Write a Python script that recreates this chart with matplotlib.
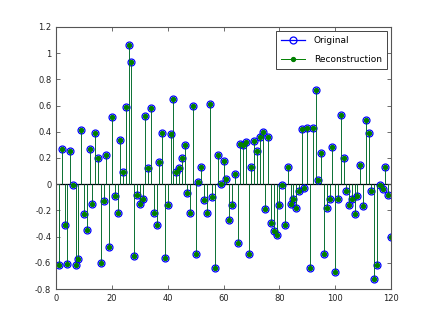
import matplotlib
matplotlib.use('Agg')
import matplotlib.pyplot as plt
from matplotlib.lines import Line2D
from matplotlib.legend_handler import HandlerLine2D
import numpy as np

# sample index 1..120
n = np.arange(1, 121)

original = [
    -0.62, 0.27, -0.31, -0.61, 0.25, -0.01, -0.62, -0.57, 0.41, -0.23,
    -0.35, 0.27, -0.15, 0.39, 0.20, -0.60, -0.13, 0.22, -0.48, 0.51,
    -0.09, -0.22, 0.34, 0.09, 0.59, 1.06, 0.93, -0.55, -0.08, -0.15,
    -0.11, 0.52, 0.12, 0.58, -0.22, -0.31, 0.17, 0.39, -0.56, -0.16,
    0.38, 0.65, 0.09, 0.12, 0.20, 0.30, -0.07, -0.22, 0.60, -0.53,
    0.02, 0.13, -0.12, -0.22, 0.61, -0.10, -0.64, 0.22, 0.00, 0.18,
    0.04, -0.27, -0.16, 0.08, -0.45, 0.31, 0.30, 0.32, -0.53, 0.13,
    0.33, 0.25, 0.36, 0.40, -0.19, 0.36, -0.30, -0.36, -0.39, -0.16,
    -0.01, -0.31, 0.13, -0.15, -0.11, -0.18, -0.05, 0.42, -0.03, 0.43,
    -0.64, 0.43, 0.72, 0.03, 0.24, -0.53, -0.18, -0.11, 0.28, -0.67,
    -0.11, 0.53, 0.20, -0.05, -0.16, -0.11, -0.23, -0.09, 0.15, -0.17,
    0.49, 0.39, -0.05, -0.72, -0.62, -0.01, -0.04, 0.13, -0.08, -0.40,
]
# reconstruction sits on top of the original at this resolution
reconstruction = list(original)

xticks = [0, 20, 40, 60, 80, 100, 120]
yticks = [-0.8, -0.6, -0.4, -0.2, 0, 0.2, 0.4, 0.6, 0.8, 1, 1.2]
ylabels = ['-0.8', '-0.6', '-0.4', '-0.2', '0', '0.2', '0.4', '0.6', '0.8', '1', '1.2']

green = '#008000'


class EndMarker(HandlerLine2D):
    # matlab style legend: line with the marker at its right end
    def get_xdata(self, legend, xdescent, ydescent, width, height, fontsize):
        xdata = np.array([-xdescent, -xdescent + width])
        return xdata, np.array([-xdescent + width])


fig = plt.figure(figsize=(4.32, 3.24), dpi=100)
ax = fig.add_axes([0.13, 0.108, 0.775, 0.809])

mk, st, bl = ax.stem(n, original, linefmt='b-', markerfmt='bo', basefmt=' ')
mk.set_markerfacecolor('none')
mk.set_markersize(5)
mk.set_markeredgewidth(0.9)
st.set_linewidth(0.5)

mk2, st2, bl2 = ax.stem(n, reconstruction, linefmt='-', markerfmt='o', basefmt=' ')
st2.set_color(green)
st2.set_linewidth(0.7)
st2.set_alpha(0.8)
mk2.set_color(green)
mk2.set_markersize(2.8)

ax.axhline(0, color='k', lw=0.9, zorder=1.5)

ax.set_xlim(0, 120)
ax.set_ylim(-0.8, 1.2)
ax.set_xticks(xticks)
ax.set_yticks(yticks)
ax.set_yticklabels(ylabels)
ax.tick_params(direction='in', top=True, right=True, labelsize=6, length=3, width=0.6,
               color='#555555', labelcolor='#222222')
for sp in ax.spines.values():
    sp.set_color('#555555')
    sp.set_linewidth(0.8)

h1 = Line2D([], [], color='b', lw=0.9, marker='o', markerfacecolor='none',
            markersize=5, markeredgewidth=0.9)
h2 = Line2D([], [], color=green, lw=0.7, marker='o', markersize=2.8)
leg = ax.legend([h1, h2], ['Original', 'Reconstruction'], loc='upper right',
                fontsize=6.5, fancybox=False, framealpha=1, handlelength=2.6,
                labelspacing=1.1, borderaxespad=0.4, borderpad=0.6,
                handletextpad=1.0, numpoints=1,
                handler_map={Line2D: EndMarker()})
leg.get_frame().set_edgecolor('#444444')
leg.get_frame().set_linewidth(0.7)

fig.savefig('out.png', dpi=100)
